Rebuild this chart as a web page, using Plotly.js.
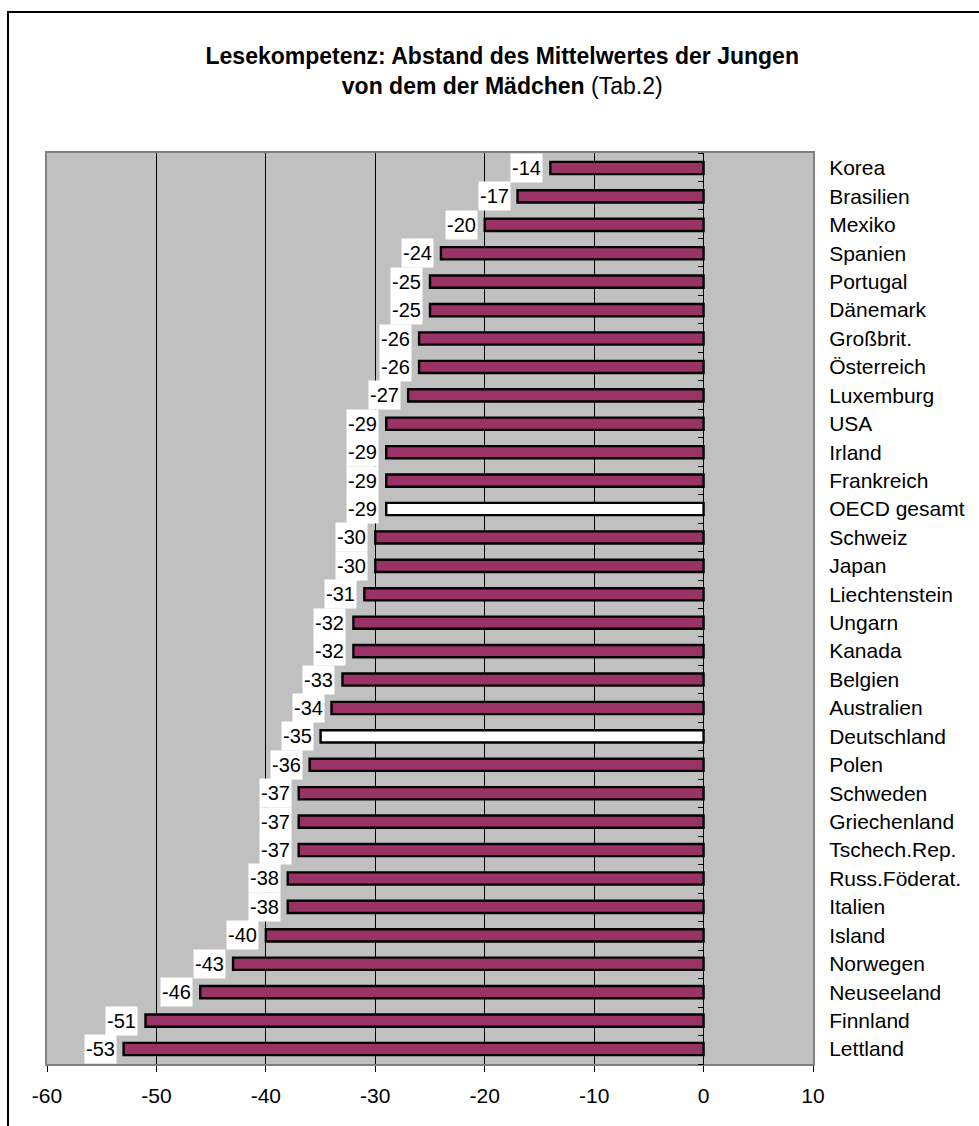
<!DOCTYPE html>
<html>
<head>
<meta charset="utf-8">
<script src="https://cdn.plot.ly/plotly-3.0.1.min.js"></script>
<style>
  html, body { margin: 0; padding: 0; background: #fff; }
  #wrap { position: relative; width: 979px; height: 1126px; overflow: hidden; }
  #chart { width: 979px; height: 1126px; }
  #frame {
    position: absolute; left: 7px; top: 11px; right: 0; bottom: 0;
    border-left: 2px solid #000; border-top: 2px solid #000;
    pointer-events: none;
  }
</style>
</head>
<body>
<div id="wrap">
  <div id="chart"></div>
  <div id="frame"></div>
</div>
<script>
// Countries, top to bottom
const countries = [
  "Korea", "Brasilien", "Mexiko", "Spanien", "Portugal", "Dänemark",
  "Großbrit.", "Österreich", "Luxemburg", "USA", "Irland", "Frankreich",
  "OECD gesamt", "Schweiz", "Japan", "Liechtenstein", "Ungarn", "Kanada",
  "Belgien", "Australien", "Deutschland", "Polen", "Schweden", "Griechenland",
  "Tschech.Rep.", "Russ.Föderat.", "Italien", "Island", "Norwegen",
  "Neuseeland", "Finnland", "Lettland"
];

// Boys' mean minus girls' mean (reading literacy points)
const gaps = [
  -14, -17, -20, -24, -25, -25,
  -26, -26, -27, -29, -29, -29,
  -29, -30, -30, -31, -32, -32,
  -33, -34, -35, -36, -37, -37,
  -37, -38, -38, -40, -43,
  -46, -51, -53
];

// Rows drawn as white bars
const highlighted = ["OECD gesamt", "Deutschland"];

// Value axis ticks
const xTicks = [-60, -50, -40, -30, -20, -10, 0, 10];

const FONT = 'Arial, "Liberation Sans", Helvetica, sans-serif';
const xMin = xTicks[0], xMax = xTicks[xTicks.length - 1];

const barColors = countries.map(c => highlighted.includes(c) ? "#FFFFFF" : "#993366");

const bars = {
  type: "bar",
  orientation: "h",
  x: gaps,
  y: countries,
  width: 0.43,
  marker: { color: barColors, line: { color: "#000000", width: 2.4 } },
  hoverinfo: "x+y",
  showlegend: false
};

// Empty helper so the secondary axis (tick marks on the zero line) is laid out
const zeroAxisHelper = {
  type: "scatter", mode: "markers",
  x: [], y: [], xaxis: "x", yaxis: "y2",
  hoverinfo: "skip", showlegend: false
};

// Value labels in white boxes, left of each bar end
const labels = countries.map((c, i) => ({
  x: gaps[i], y: c, xref: "x", yref: "y",
  text: String(gaps[i]),
  showarrow: false,
  xanchor: "right", yanchor: "middle",
  xshift: -7,
  bgcolor: "#FFFFFF",
  borderpad: 0,
  width: 31, height: 28,
  align: "center",
  font: { family: FONT, size: 20, color: "#000" }
}));

// Category boundaries for the tick marks along the zero axis
const boundaries = Array.from({ length: countries.length + 1 }, (_, i) => i - 0.5);

const layout = {
  width: 979,
  height: 1126,
  margin: { l: 47, r: 166, t: 153, b: 62, pad: 0 },
  paper_bgcolor: "#FFFFFF",
  plot_bgcolor: "#C0C0C0",
  font: { family: FONT, color: "#000" },
  title: {
    text: "<b>Lesekompetenz: Abstand des Mittelwertes der Jungen<br>von dem der Mädchen</b> (Tab.2)",
    font: { family: FONT, size: 23, color: "#000" },
    xref: "container", x: 0.513, xanchor: "center",
    yref: "container", y: 0.943, yanchor: "top"
  },
  xaxis: {
    range: [xMin, xMax],
    tickvals: xTicks,
    ticktext: xTicks.map(String),
    ticks: "outside", ticklen: 6, tickwidth: 1, tickcolor: "#000",
    ticklabelstandoff: 6,
    tickfont: { family: FONT, size: 21, color: "#000" },
    showgrid: true, gridcolor: "#000", gridwidth: 1,
    zeroline: true, zerolinecolor: "#000", zerolinewidth: 1,
    showline: true, linecolor: "#808080", linewidth: 2, mirror: true,
    fixedrange: true
  },
  yaxis: {
    type: "category",
    autorange: "reversed",
    side: "right",
    ticks: "",
    ticklabelstandoff: 10,
    tickfont: { family: FONT, size: 21, color: "#000" },
    showgrid: false, zeroline: false,
    showline: true, linecolor: "#808080", linewidth: 2, mirror: true,
    fixedrange: true
  },
  yaxis2: {
    overlaying: "y",
    anchor: "free",
    position: (0 - xMin) / (xMax - xMin),
    side: "left",
    range: [countries.length - 0.5, -0.5],
    tickvals: boundaries,
    ticks: "outside", ticklen: 6, tickwidth: 1, tickcolor: "#000",
    showticklabels: false,
    showgrid: false, zeroline: false, showline: false,
    fixedrange: true
  },
  annotations: labels
};

Plotly.newPlot("chart", [bars, zeroAxisHelper], layout, { displayModeBar: false, staticPlot: true });
</script>
</body>
</html>
